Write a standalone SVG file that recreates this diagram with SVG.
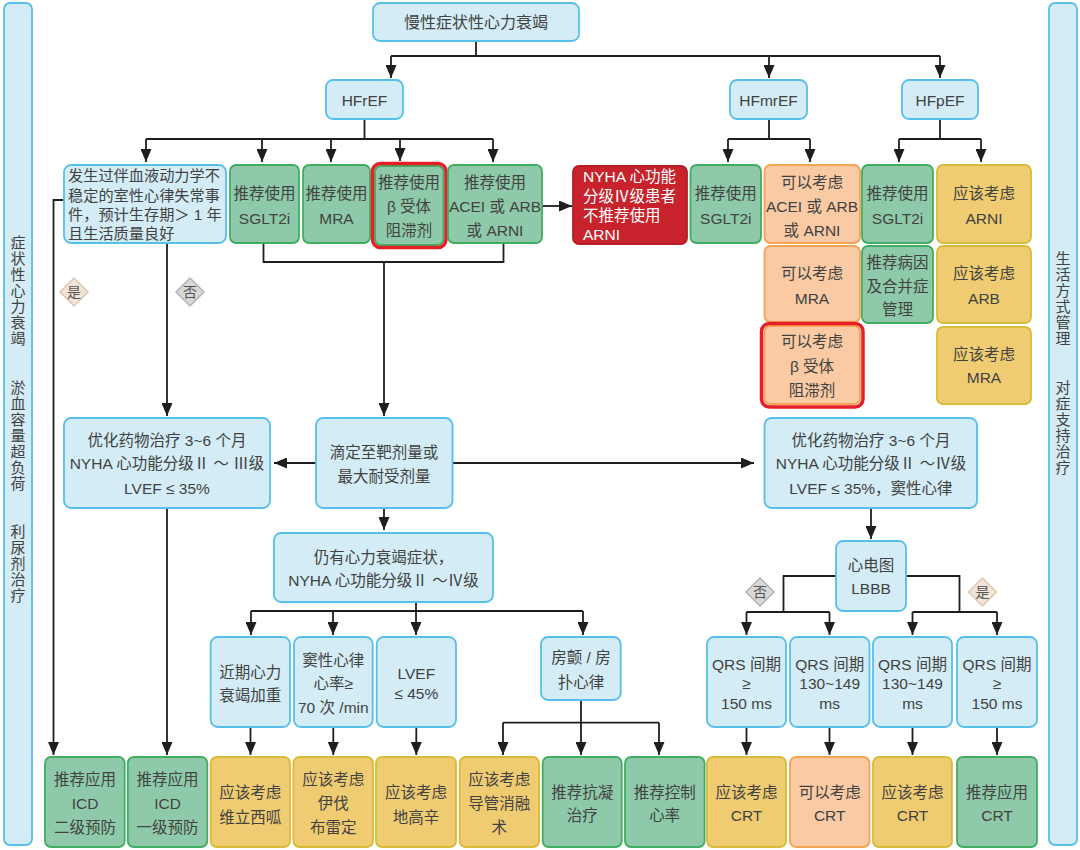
<svg xmlns="http://www.w3.org/2000/svg" width="1080" height="850" viewBox="0 0 1080 850">
<defs>
<marker id="ar" viewBox="0 0 13 11" refX="13" refY="5.5" markerWidth="13" markerHeight="11" markerUnits="userSpaceOnUse" orient="auto"><path d="M0,0 L13,5.5 L0,11 z" fill="#1e1e1e"/></marker>
<style>
.b{fill:#d3ecf5;stroke:#56c0ea;stroke-width:1.8}
.g{fill:#8ecaa9;stroke:#3fae62;stroke-width:1.8}
.o{fill:#f9caa3;stroke:#f3a455;stroke-width:1.8}
.y{fill:#efcc72;stroke:#d6bc38;stroke-width:1.8}
.r{fill:#c8232c;stroke:#b71e27;stroke-width:1.8}
.hl{fill:none;stroke:#e51f28;stroke-width:3.5}
.t{font-family:"Liberation Sans","Noto Sans CJK SC",sans-serif;font-size:15.5px;fill:#424242;text-anchor:middle;dominant-baseline:central}
.l{text-anchor:start}
.w{fill:#ffffff;text-anchor:start}
.s{font-size:15px}
.c{stroke:#1e1e1e;stroke-width:1.8;fill:none}
.a{stroke:#1e1e1e;stroke-width:1.8;fill:none;marker-end:url(#ar)}
.dy{fill:#f2e4d6;stroke:#dcc8b4;stroke-width:1.5}
.dn{fill:#d8d8d8;stroke:#b4b4b4;stroke-width:1.5}
.dt{font-size:14px;fill:#555}
</style>
</defs>
<rect width="1080" height="850" fill="#ffffff"/>

<g id="side-left">
<rect class="b" x="4" y="3" width="28" height="842" rx="6"/>
<text class="t s" x="18"><tspan x="18" y="242">症</tspan><tspan x="18" y="258">状</tspan><tspan x="18" y="274">性</tspan><tspan x="18" y="290">心</tspan><tspan x="18" y="306">力</tspan><tspan x="18" y="322">衰</tspan><tspan x="18" y="338">竭</tspan></text>
<text class="t s" x="18"><tspan x="18" y="387">淤</tspan><tspan x="18" y="403">血</tspan><tspan x="18" y="419">容</tspan><tspan x="18" y="435">量</tspan><tspan x="18" y="451">超</tspan><tspan x="18" y="467">负</tspan><tspan x="18" y="483">荷</tspan></text>
<text class="t s" x="18"><tspan x="18" y="531">利</tspan><tspan x="18" y="547">尿</tspan><tspan x="18" y="563">剂</tspan><tspan x="18" y="579">治</tspan><tspan x="18" y="595">疗</tspan></text>
</g>
<g id="side-right">
<rect class="b" x="1049" y="3" width="28" height="842" rx="6"/>
<text class="t s" x="1063"><tspan x="1063" y="258">生</tspan><tspan x="1063" y="274">活</tspan><tspan x="1063" y="290">方</tspan><tspan x="1063" y="306">式</tspan><tspan x="1063" y="322">管</tspan><tspan x="1063" y="338">理</tspan></text>
<text class="t s" x="1063"><tspan x="1063" y="387">对</tspan><tspan x="1063" y="403">症</tspan><tspan x="1063" y="419">支</tspan><tspan x="1063" y="435">持</tspan><tspan x="1063" y="451">治</tspan><tspan x="1063" y="467">疗</tspan></text>
</g>

<g id="connectors">
<path class="c" d="M476,41 V56 M391,56 H940"/>
<path class="a" d="M391,56 V78"/>
<path class="a" d="M769,56 V78"/>
<path class="a" d="M940,56 V78"/>
<path class="c" d="M364.5,119 V139 M146,139 H493"/>
<path class="a" d="M146,139 V162"/>
<path class="a" d="M262,139 V162"/>
<path class="a" d="M331,139 V162"/>
<path class="a" d="M400,139 V161"/>
<path class="a" d="M493,139 V162"/>
<path class="c" d="M769,119 V139 M728,139 H810"/>
<path class="a" d="M728,139 V162"/>
<path class="a" d="M810,139 V162"/>
<path class="c" d="M940,119 V139 M899,139 H981"/>
<path class="a" d="M899,139 V162"/>
<path class="a" d="M981,139 V162"/>
<path class="a" d="M542,206 H572"/>
<path class="a" d="M64,200 H53.5 V755"/>
<path class="a" d="M167,243 V416"/>
<path class="c" d="M263.5,243 V262 H503.5 V243"/>
<path class="a" d="M384,262 V416"/>
<path class="a" d="M316,463 H274"/>
<path class="a" d="M452.5,463 H754"/>
<path class="a" d="M167,508 V755"/>
<path class="a" d="M384,508 V530"/>
<path class="c" d="M416,602 V611 M251,611 H583"/>
<path class="a" d="M251,611 V635"/>
<path class="a" d="M333,611 V635"/>
<path class="a" d="M416,611 V635"/>
<path class="a" d="M583,611 V635"/>
<path class="a" d="M250.5,727 V755"/>
<path class="a" d="M333.3,727 V755"/>
<path class="a" d="M416.3,727 V755"/>
<path class="c" d="M581,700 V722.7 M503,722.7 H659"/>
<path class="a" d="M503,722.7 V755"/>
<path class="a" d="M581,722.7 V755"/>
<path class="a" d="M659,722.7 V755"/>
<path class="a" d="M871,508 V539"/>
<path class="c" d="M836,576 H783.5 V612 M746.5,612 H829.5"/>
<path class="a" d="M746.5,612 V635"/>
<path class="a" d="M829.5,612 V635"/>
<path class="c" d="M906,576 H959.5 V612 M912.5,612 H997"/>
<path class="a" d="M912.5,612 V635"/>
<path class="a" d="M997,612 V635"/>
<path class="a" d="M746.5,727 V755"/>
<path class="a" d="M829.5,727 V755"/>
<path class="a" d="M912.5,727 V755"/>
<path class="a" d="M997,727 V755"/>
</g>

<g id="label-yes-1"><path class="dy" d="M74,278 L88,292 L74,306 L60,292 z"/><text class="t dt" x="74" y="292">是</text></g>
<g id="label-no-1"><path class="dn" d="M190,278 L204,292 L190,306 L176,292 z"/><text class="t dt" x="190" y="292">否</text></g>
<g id="label-no-2"><path class="dn" d="M760,578 L774,592 L760,606 L746,592 z"/><text class="t dt" x="760" y="592">否</text></g>
<g id="label-yes-2"><path class="dy" d="M982.5,578 L996.5,592 L982.5,606 L968.5,592 z"/><text class="t dt" x="982.5" y="592">是</text></g>

<g id="n-top"><rect class="b" x="373" y="3" width="206" height="38" rx="7"/><text class="t" x="476" y="22" style="font-size:16px">慢性症状性心力衰竭</text></g>
<g id="n-hfref"><rect class="b" x="326" y="80" width="77" height="39" rx="7"/><text class="t" x="364.5" y="100">HFrEF</text></g>
<g id="n-hfmref"><rect class="b" x="730" y="80" width="77" height="39" rx="7"/><text class="t" x="768.5" y="100">HFmrEF</text></g>
<g id="n-hfpef"><rect class="b" x="902" y="80" width="76" height="39" rx="7"/><text class="t" x="940" y="100">HFpEF</text></g>

<g id="n-vt"><rect class="b" x="64" y="165" width="162" height="78" rx="7"/>
<text class="t l" style="font-size:15.2px"><tspan x="68" y="175">发生过伴血液动力学不</tspan><tspan x="68" y="195">稳定的室性心律失常事</tspan><tspan x="68" y="214">件，预计生存期＞ 1 年</tspan><tspan x="68" y="233">且生活质量良好</tspan></text></g>
<g id="n-sglt2i-r"><rect class="g" x="230" y="165" width="69" height="78" rx="6"/><text class="t"><tspan x="264.5" y="193">推荐使用</tspan><tspan x="264.5" y="218">SGLT2i</tspan></text></g>
<g id="n-mra-r"><rect class="g" x="303" y="165" width="67" height="78" rx="6"/><text class="t"><tspan x="336.5" y="193">推荐使用</tspan><tspan x="336.5" y="218">MRA</tspan></text></g>
<g id="n-bb-r"><rect class="g" x="375" y="166" width="68.5" height="79" rx="6"/><rect class="hl" x="372.5" y="163.5" width="73.5" height="84" rx="8"/><text class="t"><tspan x="409" y="182">推荐使用</tspan><tspan x="409" y="206">β  受体</tspan><tspan x="409" y="230">阻滞剂</tspan></text></g>
<g id="n-acei-r"><rect class="g" x="448" y="165" width="94" height="78" rx="6"/><text class="t"><tspan x="495" y="182">推荐使用</tspan><tspan x="495" y="206">ACEI 或 ARB</tspan><tspan x="495" y="230">或 ARNI</tspan></text></g>
<g id="n-nyha4"><rect class="r" x="573" y="166" width="114" height="78" rx="6"/><text class="t w"><tspan x="583" y="176">NYHA 心功能</tspan><tspan x="583" y="195.5">分级Ⅳ级患者</tspan><tspan x="583" y="215">不推荐使用</tspan><tspan x="583" y="234">ARNI</tspan></text></g>
<g id="n-sglt2i-mr"><rect class="g" x="690.5" y="165" width="70.5" height="78" rx="6"/><text class="t"><tspan x="725.75" y="193">推荐使用</tspan><tspan x="725.75" y="218">SGLT2i</tspan></text></g>
<g id="n-acei-mr"><rect class="o" x="764.5" y="165" width="95.5" height="78" rx="6"/><text class="t"><tspan x="812" y="182">可以考虑</tspan><tspan x="812" y="206">ACEI 或 ARB</tspan><tspan x="812" y="230">或 ARNI</tspan></text></g>
<g id="n-mra-mr"><rect class="o" x="764.5" y="246" width="95.5" height="76" rx="6"/><text class="t"><tspan x="812" y="273">可以考虑</tspan><tspan x="812" y="298">MRA</tspan></text></g>
<g id="n-bb-mr"><rect class="o" x="764.5" y="326" width="95.5" height="78" rx="6"/><rect class="hl" x="761.5" y="323.5" width="101.5" height="83.5" rx="8"/><text class="t"><tspan x="812" y="341">可以考虑</tspan><tspan x="812" y="366">β  受体</tspan><tspan x="812" y="390">阻滞剂</tspan></text></g>
<g id="n-sglt2i-p"><rect class="g" x="862" y="165" width="71" height="78" rx="6"/><text class="t"><tspan x="897.5" y="193">推荐使用</tspan><tspan x="897.5" y="218">SGLT2i</tspan></text></g>
<g id="n-cause-p"><rect class="g" x="862" y="246" width="71" height="77" rx="6"/><text class="t"><tspan x="897.5" y="262">推荐病因</tspan><tspan x="897.5" y="286">及合并症</tspan><tspan x="897.5" y="309">管理</tspan></text></g>
<g id="n-arni-p"><rect class="y" x="937" y="165" width="94" height="78" rx="6"/><text class="t"><tspan x="984" y="193">应该考虑</tspan><tspan x="984" y="218">ARNI</tspan></text></g>
<g id="n-arb-p"><rect class="y" x="937" y="246" width="94" height="77" rx="6"/><text class="t"><tspan x="984" y="273">应该考虑</tspan><tspan x="984" y="298">ARB</tspan></text></g>
<g id="n-mra-p"><rect class="y" x="937" y="327" width="94" height="77" rx="6"/><text class="t"><tspan x="984" y="354">应该考虑</tspan><tspan x="984" y="377">MRA</tspan></text></g>

<g id="n-opt-l"><rect class="b" x="64" y="418" width="206" height="90" rx="7"/><text class="t"><tspan x="167" y="440">优化药物治疗 3~6 个月</tspan><tspan x="167" y="463">NYHA 心功能分级Ⅱ ～ Ⅲ级</tspan><tspan x="167" y="488">LVEF ≤ 35%</tspan></text></g>
<g id="n-titrate"><rect class="b" x="316" y="418" width="136.5" height="90" rx="7"/><text class="t"><tspan x="384" y="452">滴定至靶剂量或</tspan><tspan x="384" y="476">最大耐受剂量</tspan></text></g>
<g id="n-opt-r"><rect class="b" x="764.5" y="418" width="212.5" height="90" rx="7"/><text class="t"><tspan x="871" y="440">优化药物治疗 3~6 个月</tspan><tspan x="871" y="463">NYHA 心功能分级Ⅱ ～Ⅳ级</tspan><tspan x="871" y="488">LVEF ≤ 35%，窦性心律</tspan></text></g>
<g id="n-still"><rect class="b" x="274" y="533" width="219" height="69" rx="7"/><text class="t"><tspan x="383.5" y="557">仍有心力衰竭症状，</tspan><tspan x="383.5" y="580">NYHA 心功能分级Ⅱ ～Ⅳ级</tspan></text></g>
<g id="n-ecg"><rect class="b" x="836" y="541" width="70" height="70" rx="7"/><text class="t"><tspan x="871" y="565">心电图</tspan><tspan x="871" y="588">LBBB</tspan></text></g>

<g id="n-recent"><rect class="b" x="210.7" y="637" width="79.3" height="90" rx="7"/><text class="t"><tspan x="250.3" y="672">近期心力</tspan><tspan x="250.3" y="695">衰竭加重</tspan></text></g>
<g id="n-sinus"><rect class="b" x="294" y="637" width="78.7" height="90" rx="7"/><text class="t"><tspan x="333.3" y="660">窦性心律</tspan><tspan x="333.3" y="683">心率≥</tspan><tspan x="333.3" y="707">70 次 /min</tspan></text></g>
<g id="n-lvef45"><rect class="b" x="376.7" y="637" width="79.3" height="90" rx="7"/><text class="t"><tspan x="416.3" y="673">LVEF</tspan><tspan x="416.3" y="693">≤ 45%</tspan></text></g>
<g id="n-af"><rect class="b" x="541" y="637" width="79.7" height="63" rx="7"/><text class="t"><tspan x="581" y="657">房颤 / 房</tspan><tspan x="581" y="682">扑心律</tspan></text></g>
<g id="n-qrs1"><rect class="b" x="707" y="637" width="79" height="90" rx="7"/><text class="t"><tspan x="746.5" y="664">QRS 间期</tspan><tspan x="746.5" y="683">≥</tspan><tspan x="746.5" y="703">150 ms</tspan></text></g>
<g id="n-qrs2"><rect class="b" x="790" y="637" width="79.5" height="90" rx="7"/><text class="t"><tspan x="829.7" y="664">QRS 间期</tspan><tspan x="829.7" y="683">130~149</tspan><tspan x="829.7" y="703">ms</tspan></text></g>
<g id="n-qrs3"><rect class="b" x="873" y="637" width="79" height="90" rx="7"/><text class="t"><tspan x="912.5" y="664">QRS 间期</tspan><tspan x="912.5" y="683">130~149</tspan><tspan x="912.5" y="703">ms</tspan></text></g>
<g id="n-qrs4"><rect class="b" x="957" y="637" width="80" height="90" rx="7"/><text class="t"><tspan x="997" y="664">QRS 间期</tspan><tspan x="997" y="683">≥</tspan><tspan x="997" y="703">150 ms</tspan></text></g>

<g id="n-icd2"><rect class="g" x="45" y="757" width="79.7" height="90" rx="6"/><text class="t"><tspan x="85" y="779">推荐应用</tspan><tspan x="85" y="803">ICD</tspan><tspan x="85" y="827">二级预防</tspan></text></g>
<g id="n-icd1"><rect class="g" x="127.8" y="757" width="79.5" height="90" rx="6"/><text class="t"><tspan x="167.5" y="779">推荐应用</tspan><tspan x="167.5" y="803">ICD</tspan><tspan x="167.5" y="827">一级预防</tspan></text></g>
<g id="n-veri"><rect class="y" x="210.7" y="757" width="79.3" height="90" rx="6"/><text class="t"><tspan x="250.3" y="792">应该考虑</tspan><tspan x="250.3" y="817">维立西呱</tspan></text></g>
<g id="n-ivab"><rect class="y" x="293.4" y="757" width="79.6" height="90" rx="6"/><text class="t"><tspan x="333.2" y="779">应该考虑</tspan><tspan x="333.2" y="803">伊伐</tspan><tspan x="333.2" y="827">布雷定</tspan></text></g>
<g id="n-digo"><rect class="y" x="376" y="757" width="80" height="90" rx="6"/><text class="t"><tspan x="416" y="792">应该考虑</tspan><tspan x="416" y="817">地高辛</tspan></text></g>
<g id="n-abl"><rect class="y" x="459.7" y="757" width="79.3" height="90" rx="6"/><text class="t"><tspan x="499.3" y="779">应该考虑</tspan><tspan x="499.3" y="803">导管消融</tspan><tspan x="499.3" y="827">术</tspan></text></g>
<g id="n-anticoag"><rect class="g" x="542.7" y="757" width="79" height="90" rx="6"/><text class="t"><tspan x="582.2" y="792">推荐抗凝</tspan><tspan x="582.2" y="815">治疗</tspan></text></g>
<g id="n-rate"><rect class="g" x="625" y="757" width="79.6" height="90" rx="6"/><text class="t"><tspan x="664.8" y="792">推荐控制</tspan><tspan x="664.8" y="815">心率</tspan></text></g>
<g id="n-crt1"><rect class="y" x="707" y="757" width="79" height="90" rx="6"/><text class="t"><tspan x="746.5" y="792">应该考虑</tspan><tspan x="746.5" y="815">CRT</tspan></text></g>
<g id="n-crt2"><rect class="o" x="790" y="757" width="79.5" height="90" rx="6"/><text class="t"><tspan x="829.7" y="792">可以考虑</tspan><tspan x="829.7" y="815">CRT</tspan></text></g>
<g id="n-crt3"><rect class="y" x="873" y="757" width="79" height="90" rx="6"/><text class="t"><tspan x="912.5" y="792">应该考虑</tspan><tspan x="912.5" y="815">CRT</tspan></text></g>
<g id="n-crt4"><rect class="g" x="957" y="757" width="80" height="90" rx="6"/><text class="t"><tspan x="997" y="792">推荐应用</tspan><tspan x="997" y="815">CRT</tspan></text></g>
</svg>
